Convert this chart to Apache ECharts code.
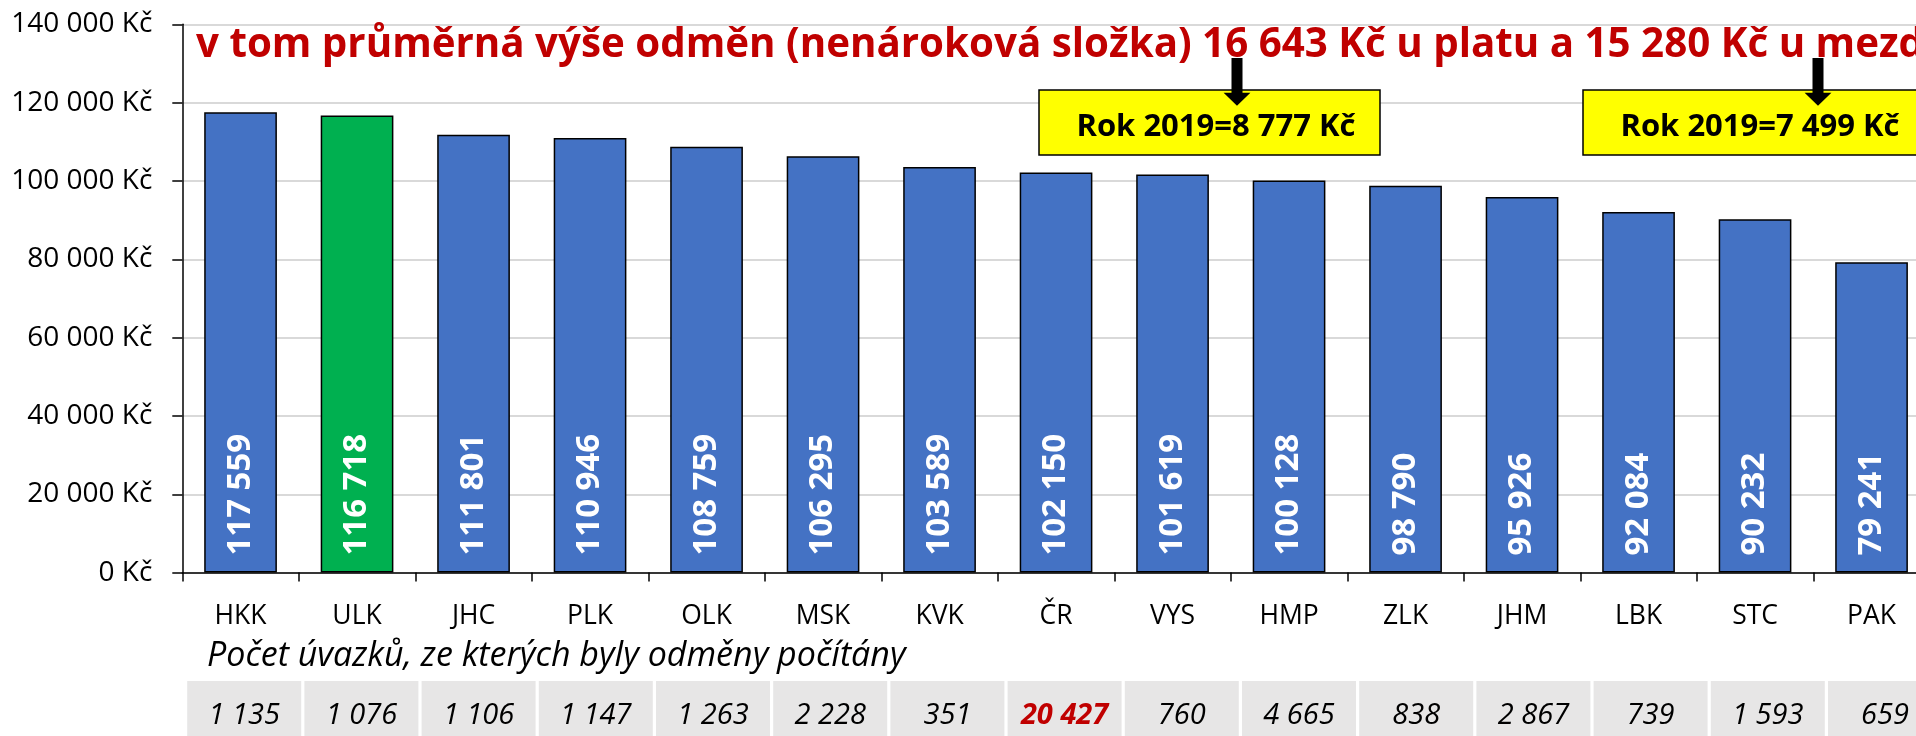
<!DOCTYPE html>
<html>
<head>
<meta charset="utf-8">
<script src="https://cdn.jsdelivr.net/npm/echarts@6/dist/echarts.min.js"></script>
<style>
  html, body { margin: 0; padding: 0; overflow: hidden; background: #fff; }
  #chart { width: 1960px; height: 736px; }
</style>
</head>
<body>
<div id="chart"></div>
<script>
// Průměrná výše odměn podle krajů
const categories = ['HKK', 'ULK', 'JHC', 'PLK', 'OLK', 'MSK', 'KVK', 'ČR', 'VYS', 'HMP', 'ZLK', 'JHM', 'LBK', 'STC', 'PAK'];
const rewardValues = [117559, 116718, 111801, 110946, 108759, 106295, 103589, 102150, 101619, 100128, 98790, 95926, 92084, 90232, 79241];
const jobCounts = [1135, 1076, 1106, 1147, 1263, 2228, 351, 20427, 760, 4665, 838, 2867, 739, 1593, 659];
const highlightRegion = 'ULK';
const totalRegion = 'ČR';
const yTicks = { min: 0, max: 140000, step: 20000 };
const headline = 'v tom průměrná výše odměn (nenároková složka) 16 643 Kč u platu a 15 280 Kč u mezdy';
const tableCaption = 'Počet úvazků, ze kterých byly odměny počítány';
const notes = ['Rok 2019=8 777 Kč', 'Rok 2019=7 499 Kč'];

const FONT = '"Open Sans", "Noto Sans", sans-serif';
const CANVAS_W = 1960;

function groupThousands(v) {
  return String(v).replace(/\B(?=(\d{3})+(?!\d))/g, ' ');
}

const chart = echarts.init(document.getElementById('chart'), null, { renderer: 'canvas' });

const barData = rewardValues.map((v, i) => ({
  value: v,
  itemStyle: { color: categories[i] === highlightRegion ? '#00B050' : '#4472C4' }
}));

const cellData = jobCounts.map((c, i) => {
  const item = { value: 1 };
  if (categories[i] === totalRegion) {
    item.label = { color: '#C00000', fontWeight: 'bold' };
  }
  return item;
});

// yellow note boxes with arrows
function arrow(cx) {
  return {
    type: 'polygon',
    z: 110,
    shape: {
      points: [
        [cx - 5.5, 58], [cx + 5.5, 58], [cx + 5.5, 92.7], [cx + 13.4, 92.7],
        [cx, 105.7], [cx - 13.4, 92.7], [cx - 5.5, 92.7]
      ]
    },
    style: { fill: '#000' }
  };
}
function noteBox(left, text) {
  return [
    {
      type: 'rect', z: 100,
      shape: { x: left, y: 90, width: 341, height: 65 },
      style: { fill: '#FFFF00', stroke: '#000', lineWidth: 1.5 }
    },
    {
      type: 'text', z: 105,
      style: {
        x: left + 177, y: 127, text: text,
        font: 'bold 31px ' + FONT, fill: '#000',
        textAlign: 'center', textVerticalAlign: 'middle',
        align: 'center', verticalAlign: 'middle'
      }
    }
  ];
}

const option = {
  animation: false,
  backgroundColor: '#fff',
  grid: [
    { left: 182.3, right: CANVAS_W - 1929.8, top: 24.3, height: 548.3 },
    { left: 185.6, right: CANVAS_W - 1943.6, top: 681, height: 100 }
  ],
  xAxis: [
    {
      type: 'category', data: categories, gridIndex: 0,
      axisLine: { lineStyle: { color: '#000', width: 1.5 } },
      axisTick: { show: true, interval: 0, length: 9, lineStyle: { color: '#000', width: 1.5 } },
      axisLabel: { interval: 0, margin: 30, color: '#000', fontFamily: FONT, fontSize: 26.5 }
    },
    { type: 'category', data: categories, gridIndex: 1, show: false }
  ],
  yAxis: [
    {
      type: 'value', gridIndex: 0,
      min: yTicks.min, max: yTicks.max, interval: yTicks.step,
      axisLine: { show: true, lineStyle: { color: '#000', width: 1.5 } },
      axisTick: { show: true, length: 10, lineStyle: { color: '#000', width: 1.5 } },
      splitLine: { lineStyle: { color: '#d9d9d9', width: 2 } },
      axisLabel: {
        margin: 30, color: '#000', fontFamily: FONT, fontSize: 28,
        formatter: v => groupThousands(v) + ' Kč'
      }
    },
    { type: 'value', gridIndex: 1, min: 0, max: 1, show: false }
  ],
  series: [
    {
      type: 'bar', xAxisIndex: 0, yAxisIndex: 0,
      data: barData,
      barWidth: '62.4%',
      itemStyle: { borderColor: '#000', borderWidth: 1.5 },
      label: {
        show: true, position: 'insideBottom', distance: 17,
        rotate: 90, align: 'left', verticalAlign: 'middle',
        color: '#fff', fontFamily: FONT, fontWeight: 'bold', fontSize: 33,
        formatter: p => groupThousands(p.value)
      },
      silent: true
    },
    {
      type: 'bar', xAxisIndex: 1, yAxisIndex: 1,
      data: cellData,
      barWidth: 114,
      itemStyle: { color: '#E7E6E6' },
      label: {
        show: true, position: 'insideTop', distance: 20,
        color: '#000', fontFamily: FONT, fontStyle: 'italic', fontSize: 29,
        formatter: p => groupThousands(jobCounts[p.dataIndex])
      },
      silent: true
    }
  ],
  graphic: [
    {
      type: 'text', left: 196, top: 26, z: 90,
      style: { text: headline, font: 'bold 40.3px ' + FONT, fill: '#C00000' }
    },
    {
      type: 'text', left: 207, top: 639, z: 90,
      style: { text: tableCaption, font: 'italic 34px ' + FONT, fill: '#000' }
    },
    ...noteBox(1039, notes[0]),
    ...noteBox(1583, notes[1]),
    arrow(1237),
    arrow(1818)
  ]
};

chart.setOption(option);
</script>
</body>
</html>
